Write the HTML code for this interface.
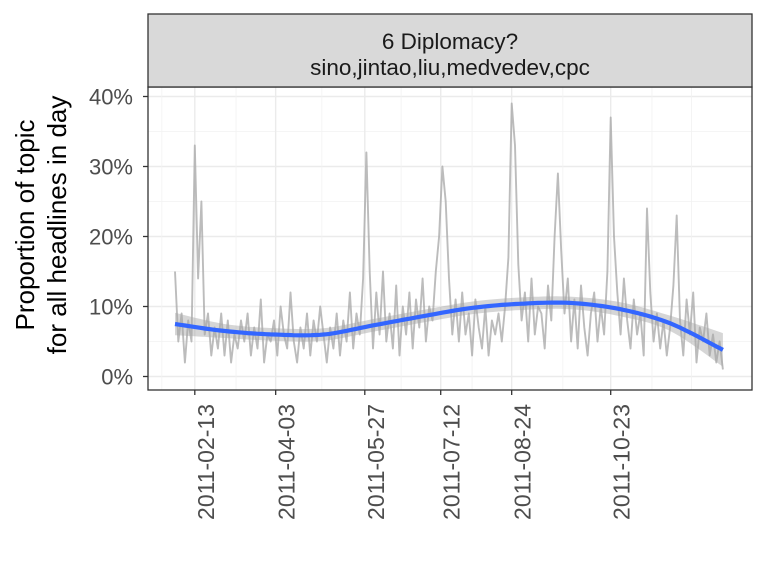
<!DOCTYPE html>
<html><head><meta charset="utf-8"><style>
html,body{margin:0;padding:0;background:#fff}
svg{display:block;font-family:"Liberation Sans",Arial,sans-serif}
</style></head><body>
<svg id="chart" width="768" height="576" viewBox="0 0 768 576" xmlns="http://www.w3.org/2000/svg">
<rect x="0" y="0" width="768" height="576" fill="#fff"/>
<rect x="148" y="87" width="604" height="303" fill="#fff"/>
<g id="grid"></g>
<g id="band"></g>
<g id="raw"></g>
<g id="smooth"></g>
<rect x="148" y="87" width="604" height="303" fill="none" stroke="#333" stroke-width="1.3"/>
<g>
<rect x="148" y="14" width="604" height="73" fill="#d9d9d9" stroke="#333" stroke-width="1.3"/>
<text x="450" y="49" text-anchor="middle" font-size="22.5" fill="#1a1a1a">6 Diplomacy?</text>
<text x="450" y="75" text-anchor="middle" font-size="22.5" fill="#1a1a1a">sino,jintao,liu,medvedev,cpc</text>
</g>
<g id="yaxis"></g>
<g id="xaxis"></g>
<g font-size="26" fill="#000">
<text transform="translate(34,225) rotate(-90)" text-anchor="middle">Proportion of topic</text>
<text transform="translate(66,225) rotate(-90)" text-anchor="middle">for all headlines in day</text>
</g>
</svg>
<script>
// raw series: one value every 2 days starting 2011-02-01 (percent)
const rawValues = [15,5,9,2,8,5,
33,14,25,6,9,3,
7,4,9,3,8,2,6,4,8,
5,9,3,7,4,11,2,6,5,8,
3,10,6,4,12,5,2,7,4,9,
3,8,5,10,6,2,7,4,9,3,
8,5,12,4,9,6,14,
32,15,4,
12,6,15,5,9,4,13,3,10,6,
12,4,11,7,14,5,10,8,15,20,
30,25,14,6,11,
5,12,6,9,3,11,7,4,10,3,8,6,9,5,10,
17,39,33,16,8,
12,5,14,6,10,9,4,13,8,
20,29,18,9,
14,5,11,4,13,7,3,9,12,5,10,6,
15,37,20,12,6,
14,8,4,11,6,9,3,24,12,
5,9,4,8,3,7,13,
23,8,3,
11,6,12,2,7,5,9,3,6,2,5,1];
const rawStepDays = 2;
const smoothDays = [0,30,60,90,120,150,180,210,240,270,300,332];
const smoothValues = [7.5,6.5,6.0,6.0,7.3,8.6,9.8,10.4,10.5,9.6,7.6,3.8];
const smoothHalfWidth = [1.6,1.0,0.9,0.9,0.9,0.9,0.9,0.9,0.9,1.0,1.1,2.4];
const yTicks = [0,10,20,30,40];
const yTickLabels = ["0%","10%","20%","30%","40%"];
const xTickDates = ["2011-02-13","2011-04-03","2011-05-27","2011-07-12","2011-08-24","2011-10-23"];
const xMinorDates = ["2011-01-24","2011-03-10","2011-05-01","2011-06-18","2011-07-31","2011-09-24","2011-11-17","2011-12-11"];

const NS="http://www.w3.org/2000/svg";
const origin=Date.UTC(2011,1,1);
function dayOf(s){const p=s.split('-');return (Date.UTC(+p[0],+p[1]-1,+p[2])-origin)/86400000;}
function x(day){return 175+day*1.6504;}
function y(v){return 376.5-v*7;}
function mk(tag,attrs,parent){const e=document.createElementNS(NS,tag);for(const k in attrs)e.setAttribute(k,attrs[k]);parent.appendChild(e);return e;}

const grid=document.getElementById('grid');
for(let i=0;i<yTicks.length;i++){
  const l=mk('line',{x1:148,x2:752,y1:y(yTicks[i]),y2:y(yTicks[i]),stroke:'#ebebeb','stroke-width':1.4},grid);
  
  
  if(i<yTicks.length-1){
    const m=mk('line',{x1:148,x2:752,y1:y((yTicks[i]+yTicks[i+1])/2),y2:y((yTicks[i]+yTicks[i+1])/2),stroke:'#f2f2f2','stroke-width':0.8},grid);
    
    
  }
}
xMinorDates.forEach(d=>{const xx=x(dayOf(d));if(xx<149||xx>751)return;
  const m=mk('line',{x1:xx,x2:xx,y1:87,y2:390,stroke:'#f2f2f2','stroke-width':0.8},grid);
  
  });
const xaxis=document.getElementById('xaxis');
xTickDates.forEach(d=>{const xx=x(dayOf(d));
  const l=mk('line',{x1:xx,x2:xx,y1:87,y2:390,stroke:'#ebebeb','stroke-width':1.4},grid);
  
  
  const t=mk('line',{x1:xx,x2:xx,y1:390,y2:395,stroke:'#333','stroke-width':1.3},xaxis);
  
  
  const tx=mk('text',{transform:`translate(${xx+19},404) rotate(-90)`,'text-anchor':'end','font-size':23,fill:'#4d4d4d'},xaxis);
  tx.textContent=d;
  
  
});
const yaxis=document.getElementById('yaxis');
yTicks.forEach((v,i)=>{
  const t=mk('line',{x1:143,x2:148,y1:y(v),y2:y(v),stroke:'#333','stroke-width':1.3},yaxis);
  
  
  const tx=mk('text',{x:133,y:y(v)+8,'text-anchor':'end','font-size':22,fill:'#4d4d4d'},yaxis);
  tx.textContent=yTickLabels[i];
  
  
});

// raw line
let d='';rawValues.forEach((v,i)=>{d+=(i?'L':'M')+x(i*rawStepDays).toFixed(1)+','+y(v).toFixed(1);});
const rl=mk('path',{d:d,fill:'none',stroke:'#a6a6a6','stroke-opacity':0.75,'stroke-width':1.9,'stroke-linejoin':'round'},document.getElementById('raw'));



// smooth via Catmull-Rom sampling
function cr(arr,t){const n=arr.length-1;let i=Math.min(Math.floor(t),n-1);const u=t-i;
  const p0=arr[Math.max(i-1,0)],p1=arr[i],p2=arr[i+1],p3=arr[Math.min(i+2,n)];
  return 0.5*((2*p1)+(-p0+p2)*u+(2*p0-5*p1+4*p2-p3)*u*u+(-p0+3*p1-3*p2+p3)*u*u*u);}
const pts=[];const N=120;
for(let k=0;k<=N;k++){const t=k/N*(smoothDays.length-1);
  pts.push([cr(smoothDays,t),cr(smoothValues,t),cr(smoothHalfWidth,t)]);}
let up='',lo='';
pts.forEach((p,i)=>{up+=(i?'L':'M')+x(p[0]).toFixed(1)+','+y(p[1]+p[2]).toFixed(1);});
for(let i=pts.length-1;i>=0;i--){const p=pts[i];lo+='L'+x(p[0]).toFixed(1)+','+y(p[1]-p[2]).toFixed(1);}
const band=mk('path',{d:up+lo+'Z',fill:'#999','fill-opacity':0.4},document.getElementById('band'));


let sd='';pts.forEach((p,i)=>{sd+=(i?'L':'M')+x(p[0]).toFixed(1)+','+y(p[1]).toFixed(1);});
const sl=mk('path',{d:sd,fill:'none',stroke:'#3366FF','stroke-width':4.2,'stroke-linejoin':'round'},document.getElementById('smooth'));


</script>
</body></html>
